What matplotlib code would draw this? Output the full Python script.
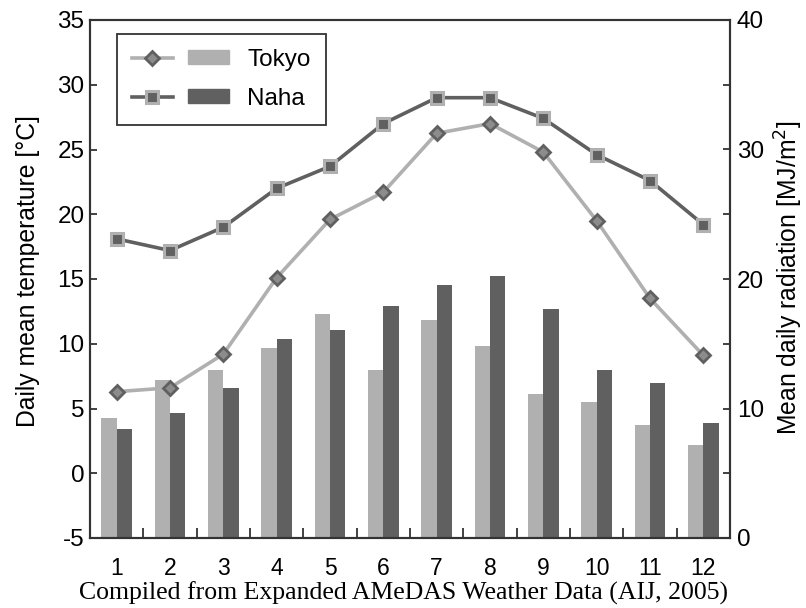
import matplotlib
matplotlib.use("Agg")
import matplotlib.pyplot as plt
from matplotlib.lines import Line2D
from matplotlib.patches import Patch
from matplotlib.legend_handler import HandlerTuple
import numpy as np

months = [1, 2, 3, 4, 5, 6, 7, 8, 9, 10, 11, 12]
month_labels = [str(m) for m in months]
tokyo_temp = [6.3, 6.6, 9.2, 15.1, 19.6, 21.7, 26.25, 27.0, 24.8, 19.5, 13.5, 9.1]
naha_temp = [18.1, 17.2, 19.0, 22.0, 23.7, 27.0, 29.0, 29.0, 27.4, 24.6, 22.6, 19.2]
tokyo_rad = [9.3, 12.2, 13.0, 14.7, 17.3, 13.0, 16.8, 14.85, 11.1, 10.5, 8.7, 7.15]
naha_rad = [8.45, 9.65, 11.6, 15.4, 16.05, 17.95, 19.5, 20.2, 17.7, 13.0, 11.95, 8.85]
temp_ticks = [-5, 0, 5, 10, 15, 20, 25, 30, 35]
rad_ticks = [0, 5, 10, 15, 20, 25, 30, 35, 40]

LIGHT = "#b0b0b0"
DARK = "#606060"
SPINE = "#333333"

plt.rcParams['font.family'] = ['Liberation Sans', 'DejaVu Sans']

fig = plt.figure(figsize=(8.06, 6.08), dpi=100)
ax = fig.add_axes([90/806, 1-538/608, 640/806, 518/608])
ax2 = ax.twinx()
ax.set_zorder(ax2.get_zorder() + 1)
ax.patch.set_visible(False)

x = np.array(months)
w = 0.29
ax2.bar(x - w/2, tokyo_rad, width=w, color=LIGHT, linewidth=0)
ax2.bar(x + w/2, naha_rad, width=w, color=DARK, linewidth=0)

tok_style = dict(color=LIGHT, lw=2.6, marker='D', ms=7.5, mfc="#8c8c8c", mec=DARK, mew=2.0)
nah_style = dict(color=DARK, lw=2.6, marker='s', ms=8.5, mfc=DARK, mec=LIGHT, mew=2.2)
ax.plot(x, tokyo_temp, **tok_style)
ax.plot(x, naha_temp, **nah_style)

ax.set_xlim(0.5, 12.5)
ax.set_ylim(-5, 35)
ax2.set_ylim(0, 40)
ax.set_yticks(temp_ticks)
ax.set_yticklabels([str(v) for v in temp_ticks])
ax2.set_yticks(rad_ticks)
ax2.set_yticklabels([str(v) if v % 10 == 0 else "" for v in rad_ticks])

ax.set_xticks(x)
ax.set_xticklabels(month_labels)
ax.set_xticks(np.arange(1.5, 12.5, 1), minor=True)
ax.tick_params(axis='x', which='major', length=0, labelsize=16.5, pad=14)
ax.tick_params(axis='x', which='minor', direction='in', length=7, width=1.3, color=SPINE)
ax.tick_params(axis='y', direction='in', length=5, width=1.3, color=SPINE, labelsize=17.5, pad=4)
ax2.tick_params(axis='y', direction='in', length=5, width=1.3, color=SPINE, labelsize=17.5, pad=5)

for a in (ax, ax2):
    for s in a.spines.values():
        s.set_color(SPINE)
        s.set_linewidth(1.5)

fig.text(28/806, 1-271.5/608, "Daily mean temperature [°C]", rotation=90,
         ha='center', va='center', fontsize=17.8)
fig.text(789/806, 1-277.5/608, "Mean daily radiation [MJ/m$^2$]", rotation=90,
         ha='center', va='center', fontsize=17.8)
fig.text(404/806, 1-600/608, "Compiled from Expanded AMeDAS Weather Data (AIJ, 2005)",
         ha='center', va='baseline', fontsize=18.5, family='Liberation Serif')

p1 = Patch(color=LIGHT)
p2 = Patch(color=DARK)
h1 = Line2D([], [], **tok_style)
h2 = Line2D([], [], **nah_style)
leg = ax.legend([(h1, p1), (h2, p2)], ["Tokyo", "Naha"],
                handler_map={tuple: HandlerTuple(ndivide=None, pad=0.62)},
                loc='upper left', bbox_to_anchor=(0.042, 0.973), borderaxespad=0,
                fontsize=17.5, handlelength=4.0, handleheight=0.5, handletextpad=0.75,
                labelspacing=0.68, borderpad=0.62, fancybox=False, framealpha=1,
                edgecolor=SPINE)
leg.get_frame().set_linewidth(1.3)

fig.savefig("out.png", dpi=100)
